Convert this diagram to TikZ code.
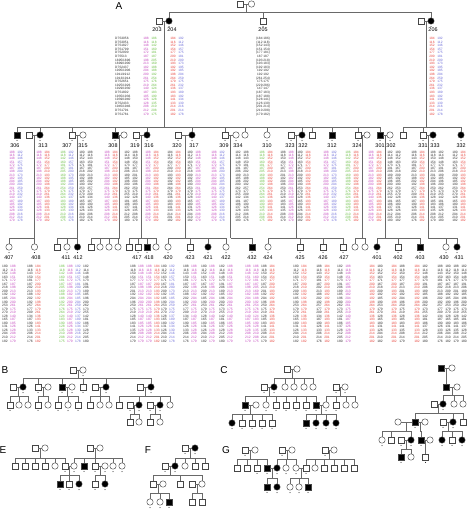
\documentclass[tikz,border=0pt]{standalone}
\usepackage{fontspec}
\setmainfont{Liberation Sans}
\usetikzlibrary{calc}
\definecolor{pk}{RGB}{196,70,190}
\definecolor{rd}{RGB}{232,66,58}
\definecolor{bl}{RGB}{106,106,216}
\definecolor{gn}{RGB}{104,190,64}
\definecolor{bk}{RGB}{45,45,45}
\definecolor{lc}{RGB}{105,105,105}
\definecolor{sc}{RGB}{70,70,70}
\def\LA{188\\116\\148\\151\\172\\187\\198\\213\\182\\204\\200\\261\\175\\219\\140\\187\\185\\126\\128\\208\\212\\179}
\def\LB{184\\116\\152\\154\\177\\200\\210\\193\\192\\192\\198\\264\\179\\261\\136\\193\\183\\141\\133\\214\\201\\182}
\def\LC{186\\118\\142\\160\\181\\187\\205\\169\\188\\188\\192\\254\\176\\264\\124\\183\\190\\128\\135\\210\\208\\175}
\def\LD{192\\112\\146\\157\\175\\181\\200\\173\\195\\185\\204\\259\\175\\232\\137\\189\\192\\134\\130\\216\\214\\178}
\def\LE{180\\112\\152\\163\\171\\167\\218\\209\\192\\185\\190\\253\\179\\270\\128\\165\\180\\131\\126\\204\\210\\182}
\def\LF{188\\116\\143\\150\\181\\187\\202\\213\\188\\202\\192\\257\\177\\209\\134\\187\\190\\126\\133\\206\\214\\176}
\def\LG{182\\114\\148\\148\\173\\191\\206\\189\\185\\196\\200\\262\\173\\255\\142\\181\\186\\137\\128\\212\\205\\180}
\def\LH{188\\118\\150\\154\\177\\187\\213\\201\\192\\204\\196\\250\\175\\219\\128\\185\\183\\141\\135\\208\\214\\179}
\def\Lfz{(184 186)\\(112 118)\\(152 143)\\(151 154)\\(177 181)\\187 187\\(193 218)\\(193 183)\\(192 183)\\192 192\\192 192\\(261 254)\\175 175\\(229 286)\\147 147\\(187 183)\\(187 188)\\(128 141)\\(126 130)\\(201 214)\\(210 208)\\(179 182)}
\def\Lmk{D7S3056\\D7S3051\\D7S1827\\D7S1799\\D7S2000\\D7S513\\1895/1896\\1899/1900\\D7S2437\\1905/1906\\1911/1912\\1913/1914\\D7S2651\\1925/1926\\1929/1930\\D7S1802\\1935/1936\\1939/1940\\D7S2433\\1945/1946\\D7S1791\\D7S1781}
\newcount\dcnt
\newcommand\dcl[5]{\global\advance\dcnt by 1\relax\node[#5,text=#3] (dc\the\dcnt) at (#1,#2) {#4};}
\newcommand\dpr[7]{\dcl{#1}{#2}{#4}{#5}{#3}\dcl{#1+8}{#2}{#6}{#7}{#3}}
\newcommand\pM[3]{\node[msq] (#1) at (#2,#3) {};}
\newcommand\pMA[3]{\node[msq,fill=black] (#1) at (#2,#3) {};}
\newcommand\pF[3]{\node[fci] (#1) at (#2,#3) {};}
\newcommand\pFA[3]{\node[fci,fill=black] (#1) at (#2,#3) {};}
\newcommand\cpl[3]{\draw[ln] (#1) -- (#2); \coordinate (#3) at ($(#1)!.5!(#2)$);}
\newcommand\pfam[3]{\draw[ln] (#1) -- (#1 |- 0,#2); \foreach \ch in {#3}{\draw[ln] (#1 |- 0,#2) -- (\ch |- 0,#2) -- (\ch);}}
\newcommand\lbl[4]{\node[lab] (#1) at (#2,#3) {#4};}
\newcommand\gdots[1]{\foreach \n in {#1}{\fill[black] ([yshift=-2.3pt]\n.south) circle (0.5pt);}}
\tikzset{
  ln/.style={draw=lc, line width=0.5pt},
  msq/.style={rectangle, draw=sc, line width=0.45pt, fill=white, minimum size=5.8pt, inner sep=0},
  fci/.style={circle, draw=sc, line width=0.45pt, fill=white, minimum size=6.4pt, inner sep=0},
  lab/.style={font=\fontsize{5.4}{5.4}\selectfont, inner sep=0, text=black},
  pnl/.style={font=\fontsize{10}{10}\selectfont, inner sep=0, text=black},
  g2/.style={font=\fontsize{3.2}{3.6}\selectfont, align=center, inner sep=0, anchor=north},
  g3/.style={font=\fontsize{3.25}{3.25}\selectfont, align=center, inner sep=0, anchor=north},
  g4/.style={font=\fontsize{3.3}{3.55}\selectfont, align=center, inner sep=0, anchor=north},
}
\begin{document}
\begin{tikzpicture}[x=1pt,y=-1pt]
\useasboundingbox (0,0) rectangle (474,509);
\fill[white] (0,0) rectangle (474,509);
% ================= PANEL A =================
\node[pnl] (pA) at (119,6) {A};
% generation 1
\pM{ga}{240.5}{4} \pF{gb}{251.5}{4}
\cpl{ga}{gb}{m0}
% generation 2
\pM{s203}{159}{21} \pFA{i204}{169}{21}
\pM{i205}{263}{21}
\pM{s206}{421}{21} \pFA{i206}{431}{21}
\pfam{m0}{12}{i204,i205,i206}
\cpl{s203}{i204}{m1}
\cpl{s206}{i206}{m2}
\gdots{s203,i204,i205,i206}
\lbl{l203}{157}{30}{203} \lbl{l204}{172}{30}{204} \lbl{l205}{263}{30}{205} \lbl{l206}{433}{30}{206}
\node[g2, anchor=north west, align=left, text=bk] (mk) at (115,37) {\Lmk};
\dpr{146}{37}{g2}{pk}{\LA}{gn}{\LC}
\dpr{173}{37}{g2}{rd}{\LB}{bl}{\LD}
\node[g2, text=bk] (d205) at (263,37) {\Lfz};
\dpr{432}{37}{g2}{rd}{\LB}{bl}{\LD}
% generation 3
\pMA{i306}{17}{135}
\pM{s313}{29}{135} \pFA{i313}{40}{135}
\pM{i307}{72}{135} \pF{i315}{83}{135}
\pMA{i308}{115}{135} \pF{s308}{124}{135}
\pM{i319}{136}{135} \pFA{i316}{147}{135}
\pM{i320}{178}{135} \pFA{i317}{192}{135}
\pM{i309}{225}{135} \pF{i334}{236}{135}
\pF{u245}{245}{135}
\pF{i310}{267}{135}
\pM{i323}{291}{135} \pFA{i322}{302}{135}
\pM{u312}{312}{135}
\pMA{i312}{332}{135}
\pM{i324}{358}{135} \pF{s324}{367}{135}
\pMA{i301}{380}{135} \pF{i302}{390}{135}
\pM{u403}{403}{135}
\pM{i331}{423}{135} \pFA{i333}{433}{135}
\pFA{i332}{461}{135}
\pfam{m1}{127}{i306,i313,i307,i308,i316,i317,i309,u245,i310,i322,u312,i312,i324,i301}
\pfam{m2}{127}{u403,i331,i332}
\cpl{s313}{i313}{m313} \cpl{i307}{i315}{m307} \cpl{i308}{s308}{m308}
\cpl{i319}{i316}{m316} \cpl{i320}{i317}{m317} \cpl{i309}{i334}{m309}
\cpl{i323}{i322}{m322} \cpl{i324}{s324}{m324} \cpl{i301}{i302}{m301}
\cpl{i331}{i333}{m331}
\gdots{i306,i313,i307,i315,i308,i319,i316,i320,i317,i309,i334,i310,i323,i322,i312,i324,i301,i302,i331,i333,i332}
\lbl{l306}{15}{146}{306} \lbl{l313}{43}{146}{313} \lbl{l307}{67}{146}{307} \lbl{l315}{83}{146}{315}
\lbl{l308}{113}{146}{308} \lbl{l319}{135}{146}{319} \lbl{l316}{149}{146}{316}
\lbl{l320}{177}{146}{320} \lbl{l317}{194}{146}{317} \lbl{l309}{224}{146}{309} \lbl{l334}{238}{146}{334}
\lbl{l310}{267}{146}{310} \lbl{l323}{290}{146}{323} \lbl{l322}{303}{146}{322} \lbl{l312}{332}{146}{312}
\lbl{l324}{357}{146}{324} \lbl{l301}{380}{146}{301} \lbl{l302}{391}{146}{302}
\lbl{l331}{423}{146}{331} \lbl{l333}{435}{146}{333} \lbl{l332}{461}{146}{332}
\dpr{12}{151}{g3}{pk}{\LA}{bl}{\LD}
\dpr{39}{151}{g3}{pk}{\LA}{rd}{\LB}
\dpr{63}{151}{g3}{gn}{\LC}{bl}{\LD}
\dpr{82}{151}{g3}{bk}{\LE}{bk}{\LF}
\dpr{107}{151}{g3}{pk}{\LA}{rd}{\LB}
\dpr{127}{151}{g3}{bk}{\LG}{bk}{\LH}
\dpr{148}{151}{g3}{pk}{\LA}{rd}{\LB}
\dpr{170}{151}{g3}{bk}{\LB}{rd}{\LB}
\dpr{190}{151}{g3}{bk}{\LE}{pk}{\LA}
\dpr{214}{151}{g3}{pk}{\LA}{bl}{\LD}
\dpr{238}{151}{g3}{bk}{\LG}{bk}{\LF}
\dpr{262}{151}{g3}{gn}{\LC}{rd}{\LB}
\dpr{283}{151}{g3}{bk}{\LH}{pk}{\LA}
\dpr{300}{151}{g3}{bk}{\LE}{rd}{\LB}
\dpr{326}{151}{g3}{pk}{\LA}{bl}{\LD}
\dpr{348}{151}{g3}{gn}{\LC}{rd}{\LB}
\dpr{371}{151}{g3}{pk}{\LA}{rd}{\LB}
\dpr{390}{151}{g3}{bk}{\LG}{bk}{\LE}
\dpr{414}{151}{g3}{bk}{\LF}{rd}{\LB}
\dpr{433}{151}{g3}{bk}{\LH}{bk}{\LG}
\dpr{455}{151}{g3}{bk}{\LE}{rd}{\LB}
% generation 4
\pF{i407}{9}{247} \pF{i408}{34.5}{247}
\pM{u57}{57}{247} \pF{i411}{67}{247} \pFA{i412}{77.5}{247}
\pM{u91}{91}{247} \pF{u100}{100}{247} \pF{u109}{109}{247} \pF{u118}{118}{247}
\pM{u129}{129}{247} \pM{i417}{138}{247} \pMA{i418}{147}{247} \pF{u156}{156}{247}
\pF{i420}{168}{247} \pM{i423}{190}{247} \pFA{i421}{208}{247} \pF{i422}{226}{247}
\pMA{i432}{252}{247}
\pF{i424}{268}{247} \pM{i425}{300}{247} \pM{i426}{323}{247} \pM{i427}{343}{247}
\pF{u355}{355}{247} \pF{u365}{365}{247}
\pFA{i401}{377}{247} \pM{i402}{398}{247} \pMA{i403}{420}{247}
\pF{i430}{446}{247} \pFA{i431}{457}{247}
\pfam{m313}{238}{i407,i408}
\pfam{m307}{238}{u57,i411,i412}
\pfam{m308}{238}{u91,u100,u109,u118}
\pfam{m316}{238}{u129,i417,i418,u156}
\pfam{m317}{238}{i420,i423,i421,i422}
\pfam{m309}{238}{i432}
\pfam{m322}{238}{i424,i425,i426,i427}
\pfam{m324}{238}{u355,u365}
\pfam{m301}{238}{i401,i402,i403}
\pfam{m331}{238}{i430,i431}
\gdots{i407,i408,i411,i412,i417,i418,i420,i423,i421,i422,i432,i424,i425,i426,i427,i401,i402,i403,i430,i431}
\lbl{l407}{9}{258}{407} \lbl{l408}{36}{258}{408} \lbl{l411}{66}{258}{411} \lbl{l412}{78}{258}{412}
\lbl{l417}{137}{258}{417} \lbl{l418}{149}{258}{418} \lbl{l420}{168}{258}{420} \lbl{l423}{190}{258}{423}
\lbl{l421}{208}{258}{421} \lbl{l422}{226}{258}{422} \lbl{l432}{252}{258}{432} \lbl{l424}{268}{258}{424}
\lbl{l425}{300}{258}{425} \lbl{l426}{323}{258}{426} \lbl{l427}{344}{258}{427} \lbl{l401}{377}{258}{401}
\lbl{l402}{398}{258}{402} \lbl{l403}{420}{258}{403} \lbl{l430}{444}{258}{430} \lbl{l431}{459}{258}{431}
\dpr{5}{265}{g4}{bk}{\LE}{pk}{\LA}
\dpr{30}{265}{g4}{bk}{\LF}{rd}{\LB}
\dpr{62}{265}{g4}{gn}{\LC}{pk}{\LA}
\dpr{78}{265}{g4}{bl}{\LD}{bk}{\LG}
\dpr{133}{265}{g4}{bk}{\LH}{pk}{\LA}
\dpr{149}{265}{g4}{pk}{\LA}{rd}{\LB}
\dpr{164}{265}{g4}{bk}{\LE}{bl}{\LD}
\dpr{186}{265}{g4}{bk}{\LF}{pk}{\LA}
\dpr{204}{265}{g4}{bk}{\LE}{pk}{\LA}
\dpr{222}{265}{g4}{bk}{\LG}{pk}{\LA}
\dpr{248}{265}{g4}{pk}{\LA}{pk}{\LC}
\dpr{264}{265}{g4}{bk}{\LH}{rd}{\LB}
\dpr{296}{265}{g4}{bk}{\LE}{rd}{\LB}
\dpr{319}{265}{g4}{bk}{\LF}{rd}{\LB}
\dpr{340}{265}{g4}{bk}{\LG}{pk}{\LA}
\dpr{372}{265}{g4}{rd}{\LB}{bk}{\LE}
\dpr{394}{265}{g4}{rd}{\LB}{bk}{\LH}
\dpr{417}{265}{g4}{rd}{\LB}{bk}{\LG}
\dpr{440}{265}{g4}{bk}{\LF}{bk}{\LE}
\dpr{456}{265}{g4}{bk}{\LH}{bk}{\LG}
% ================= PANEL B =================
\node[pnl] (pB) at (5,370) {B};
\pM{b1}{73}{370} \pF{b2}{83}{370} \cpl{b1}{b2}{mb1}
\pM{b3}{13}{387} \pFA{b4}{23}{387} \pM{b5}{38}{387} \pF{b6}{48}{387}
\pMA{b7}{62}{387} \pF{b8}{72}{387} \pM{b9}{83}{387}
\pM{b10}{95}{387} \pFA{b11}{106}{387} \pM{b12}{140}{387} \pFA{b13}{151}{387}
\pfam{mb1}{378}{b4,b5,b7,b9,b11,b13}
\cpl{b3}{b4}{mb2} \cpl{b5}{b6}{mb3} \cpl{b7}{b8}{mb4} \cpl{b10}{b11}{mb5} \cpl{b12}{b13}{mb6}
\pM{b14}{10}{405} \pF{b15}{19}{405} \pF{b16}{28}{405}
\pM{b17}{38}{405} \pF{b18}{48}{405}
\pM{b19}{58}{405} \pF{b20}{68}{405} \pM{b21}{78}{405}
\pM{b22}{90}{405} \pF{b23}{100}{405} \pF{b24}{109}{405}
\pM{b25}{119}{405} \pM{b26}{130}{405} \pFA{b27}{139}{405} \pM{b28}{150}{405} \pFA{b29}{160}{405} \pF{b30}{170}{405}
\pfam{mb2}{396}{b14,b15,b16} \pfam{mb3}{396}{b17,b18} \pfam{mb4}{396}{b19,b20,b21}
\pfam{mb5}{396}{b22,b23,b24} \pfam{mb6}{396}{b25,b27,b29,b30}
\cpl{b26}{b27}{mb7} \cpl{b28}{b29}{mb8}
\pM{b31}{130}{422} \pF{b32}{139}{422} \pM{b33}{150}{422} \pF{b34}{160}{422}
\pfam{mb7}{414}{b31,b32} \pfam{mb8}{414}{b33,b34}
\gdots{b2,b4,b5,b7,b8,b9,b11,b13,b14,b17,b19,b20,b21,b26,b27,b28,b29}
% ================= PANEL C =================
\node[pnl] (pC) at (224,370) {C};
\pM{c1}{287}{369} \pF{c2}{297}{369} \cpl{c1}{c2}{mc1}
\pM{c3}{264}{387} \pFA{c4}{274}{387} \pF{c5}{285}{387} \pF{c6}{294}{387} \pF{c7}{304}{387} \pF{c8}{313}{387}
\pfam{mc1}{378}{c4,c5,c6,c7,c8}
\cpl{c3}{c4}{mc2}
\pM{c9}{336}{387} \pF{c10}{345}{387} \cpl{c9}{c10}{mc3}
\pMA{c11}{245}{405} \pF{c12}{256}{405} \pF{c13}{266}{405} \pM{c14}{276}{405} \pM{c15}{286}{405}
\pM{c16}{296}{405} \pM{c17}{306}{405} \pMA{c18}{316}{405} \pF{c19}{326}{405} \pM{c20}{336}{405}
\pF{c21}{346}{405} \pF{c22}{355}{405}
\pfam{mc2}{396}{c11,c13,c14,c15,c16,c17,c18}
\pfam{mc3}{396}{c19,c20,c21,c22}
\cpl{c11}{c12}{mc4} \cpl{c18}{c19}{mc5}
\pFA{c23}{232}{423} \pM{c24}{242}{423} \pM{c25}{252}{423} \pM{c26}{262}{423} \pM{c27}{272}{423}
\pMA{c28}{306}{423} \pFA{c29}{316}{423} \pFA{c30}{326}{423} \pFA{c31}{336}{423}
\pfam{mc4}{414}{c23,c24,c25,c26,c27} \pfam{mc5}{414}{c28,c29,c30,c31}
\gdots{c3,c4,c11,c13,c14,c15,c16,c17,c18,c19,c20,c23,c24,c25,c26,c27,c28,c29,c30,c31,c9,c10}
% ================= PANEL D =================
\node[pnl] (pD) at (379,370) {D};
\pMA{d1}{441}{368} \pF{d2}{452}{368} \cpl{d1}{d2}{md1}
\pMA{d3}{446.5}{387} \pF{d4}{457}{387}
\pfam{md1}{378}{d3}
\cpl{d3}{d4}{md2}
\pM{d5}{434}{404} \pFA{d6}{443}{404} \pF{d7}{454}{404} \pF{d8}{463}{404}
\pfam{md2}{395}{d6,d7,d8}
\cpl{d5}{d6}{md3}
\pF{d9}{398}{422} \pMA{d10}{415}{422} \pF{d11}{425}{422} \pM{d12}{443}{422} \pFA{d13}{453}{422} \pM{d14}{463}{422}
\pfam{md3}{413}{d10,d13,d14}
\cpl{d9}{d10}{md4} \cpl{d10}{d11}{md5} \cpl{d12}{d13}{md6}
\pF{d15}{382}{440} \pM{d16}{391}{440} \pM{d17}{401}{440} \pFA{d18}{411}{440} \pMA{d19}{421}{440} \pF{d20}{430}{440}
\pFA{d21}{442}{440} \pM{d22}{452}{440} \pFA{d23}{462}{440}
\pfam{md4}{431}{d15,d16,d18} \pfam{md5}{431}{d19} \pfam{md6}{431}{d21,d22,d23}
\cpl{d17}{d18}{md7} \cpl{d19}{d20}{md8}
\pMA{d24}{401}{457} \pF{d25}{411}{457} \pM{d26}{425.5}{457}
\pfam{md7}{449}{d24,d25} \pfam{md8}{449}{d26}
\gdots{d6,d10,d12,d13,d15,d17,d18,d19,d21,d22,d23,d24,d26}
% ================= PANEL E =================
\node[pnl] (pE) at (3,450) {E};
\pM{e1}{35}{448} \pF{e2}{45}{448} \cpl{e1}{e2}{me1}
\pM{e3}{90}{448} \pF{e4}{100}{448} \cpl{e3}{e4}{me2}
\pM{e5}{15}{466} \pM{e6}{25}{466} \pM{e7}{35}{466} \pM{e8}{45}{466} \pF{e9}{55}{466} \pM{e10}{65}{466}
\pF{e11}{74}{466} \pMA{e12}{84}{466} \pM{e13}{95}{466} \pF{e14}{105}{466} \pF{e15}{113}{466} \pF{e16}{122}{466}
\pfam{me1}{458}{e5,e6,e7,e8,e9,e10}
\pfam{me2}{458}{e11,e12,e13,e15,e16}
\cpl{e10}{e11}{me3} \cpl{e13}{e14}{me4}
\pMA{e17}{60}{484} \pM{e18}{69}{484} \pFA{e19}{79}{484} \pM{e20}{95}{484} \pFA{e21}{105}{484}
\pfam{me3}{475}{e17,e18,e19} \pfam{me4}{475}{e20,e21}
\gdots{e10,e11,e12,e13,e14,e15,e16,e17,e18,e19,e20,e21}
% ================= PANEL F =================
\node[pnl] (pF) at (148,450) {F};
\pM{f1}{185}{448} \pFA{f2}{195}{448} \cpl{f1}{f2}{mf1}
\pM{f3}{165}{466} \pFA{f4}{175}{466} \pF{f5}{185}{466} \pM{f6}{195}{466} \pM{f7}{205}{466}
\pfam{mf1}{458}{f4,f5,f6,f7}
\cpl{f3}{f4}{mf2}
\pM{f8}{153}{484} \pF{f9}{163}{484} \pM{f10}{180}{484} \pM{f11}{192}{484} \pF{f12}{202}{484}
\pfam{mf2}{475}{f8,f10,f12}
\cpl{f8}{f9}{mf3} \cpl{f11}{f12}{mf4}
\pF{f13}{150}{502} \pF{f14}{160}{502} \pMA{f15}{169}{502} \pM{f16}{192}{502} \pM{f17}{202}{502}
\pfam{mf3}{493}{f13,f14,f15} \pfam{mf4}{493}{f16,f17}
\gdots{f1,f2,f3,f4,f13,f14,f15}
% ================= PANEL G =================
\node[pnl] (pG) at (226,450) {G};
\pM{g1}{245}{450} \pF{g2}{255}{450} \cpl{g1}{g2}{mg1}
\pM{g3}{282}{450} \pF{g4}{292}{450} \cpl{g3}{g4}{mg2}
\pM{g5}{325}{450} \pF{g6}{334}{450} \cpl{g5}{g6}{mg3}
\pM{g7}{237}{468} \pM{g8}{247}{468} \pM{g9}{257}{468} \pMA{g10}{267}{468}
\pFA{g11}{277}{468} \pF{g12}{286}{468} \pF{g13}{296}{468}
\pM{g14}{306}{468} \pF{g15}{315}{468} \pM{g16}{324}{468} \pM{g17}{334}{468} \pM{g18}{344}{468} \pM{g19}{354}{468}
\pfam{mg1}{459}{g7,g8,g9,g10}
\pfam{mg2}{459}{g11,g12,g13}
\pfam{mg3}{459}{g14,g15,g16,g17,g18,g19}
\cpl{g10}{g11}{mg4} \cpl{g13}{g14}{mg5}
\pMA{g20}{267}{487} \pFA{g21}{277}{487} \pF{g22}{290}{487} \pF{g23}{299}{487} \pMA{g24}{308}{487}
\pfam{mg4}{478}{g20,g21} \pfam{mg5}{478}{g22,g23,g24}
\gdots{g1,g3,g5,g9,g10,g11,g12,g13,g14,g20,g21,g22,g23,g24}
\end{tikzpicture}
\end{document}
